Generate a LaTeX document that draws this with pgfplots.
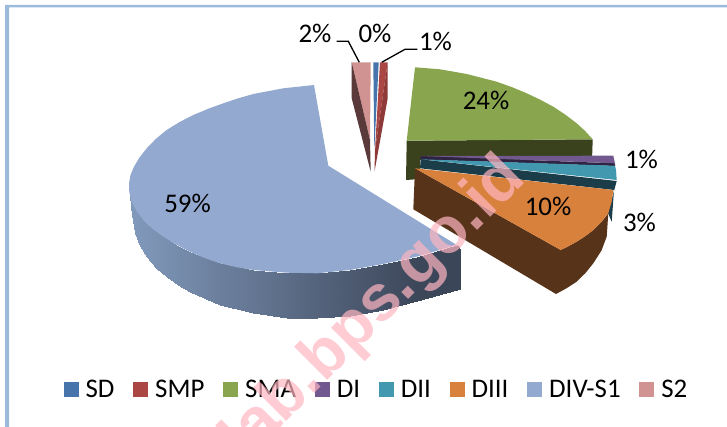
\documentclass[border=0pt]{standalone}
\usepackage{pgfplots}
\usepackage{fontspec}
\pgfplotsset{compat=1.18}
\setmainfont{Liberation Sans}
\newfontfamily\carlito{Carlito}
\definecolor{frm}{HTML}{9CBADC}
\definecolor{cSD}{HTML}{4674AB}
\definecolor{cSMP}{HTML}{AA4643}
\definecolor{cSMPd}{HTML}{8E3A38}
\definecolor{cSMA}{HTML}{89A54E}
\definecolor{cSMAd}{HTML}{3A421D}
\definecolor{cDI}{HTML}{71588F}
\definecolor{cDId}{HTML}{2E2340}
\definecolor{cDII}{HTML}{4198AF}
\definecolor{cDIId}{HTML}{1B3D4A}
\definecolor{cDIII}{HTML}{D8813D}
\definecolor{cDIIId}{HTML}{57331A}
\definecolor{cS}{HTML}{93A9CF}
\definecolor{cS2}{HTML}{D19392}
\definecolor{cS2d}{HTML}{59393A}
\definecolor{wm}{HTML}{FFB6C1}
\newcommand{\lab}[3]{\node[font=\carlito\fontsize{27}{30}\selectfont,inner sep=0pt,anchor=center] at (axis cs:#1,#2) {#3};}
\newcommand{\sq}[1]{\addlegendimage{draw=none,fill=#1}}
\begin{document}
\begin{tikzpicture}
\path[use as bounding box,clip] (0,0) rectangle (727bp,427bp);
\begin{axis}[
  scale only axis,width=727bp,height=427bp,
  xmin=0,xmax=727,ymin=0,ymax=427,y dir=reverse,
  axis lines=none,clip=true,
  colormap={sidec}{rgb255=(128,152,186) rgb255=(60,70,89)},
  point meta min=0,point meta max=1,
  every axis plot/.append style={no markers,draw=none},
  legend columns=8,
  legend image code/.code={\fill[#1] (0bp,-7.5bp) rectangle (15bp,7.5bp);},
  legend style={draw=none,fill=none,inner sep=0pt,outer sep=0pt,
    at={(0.5165,0.0878)},anchor=center,
    font=\carlito\fontsize{27}{30}\selectfont,
    /tikz/every even column/.append style={column sep=18.7bp},
    nodes={inner sep=0pt,outer sep=0pt},
    /tikz/column sep=0bp},
]
\sq{cSD}\addlegendentry{\hspace{7bp}SD}
\sq{cSMP}\addlegendentry{\hspace{7bp}SMP}
\sq{cSMA}\addlegendentry{\hspace{7bp}SMA}
\sq{cDI}\addlegendentry{\hspace{7bp}DI}
\sq{cDII}\addlegendentry{\hspace{7bp}DII}
\sq{cDIII}\addlegendentry{\hspace{7bp}DIII}
\sq{cS}\addlegendentry{\hspace{7bp}DIV-S1}
\sq{cS2}\addlegendentry{\hspace{7bp}S2}
% frame
\addplot[fill=frm,forget plot] coordinates {(5,427)(5,5)(727,5)(727,7.5)(9,7.5)(9,427)};
% S2
\addplot[fill=cS2,forget plot] coordinates {(351.7,62.3)(370.7,62.3)(370,140)};
\addplot[fill=cS2d,forget plot] coordinates {(351.7,62.3)(351.7,98.3)(370.7,171.7)(370,140)};
% SD
\addplot[fill=cSD,forget plot] coordinates {(373.3,62.3)(378.7,62.3)(374.3,150)};
% SMP
\addplot[fill=cSMP,forget plot] coordinates {(380,62.3)(387.7,62.3)(375,150)};
\addplot[fill=cSMPd,forget plot] coordinates {(387.7,62.3)(387.7,98.3)(374.5,171.7)(375,150)};
% SMA
\addplot[fill=cSMAd,forget plot] coordinates {(406.7,140.7)(592.7,139.3)(592,160)(420,160)(420,179)(406,180)};
\addplot[fill=cSMA,forget plot] coordinates {(415,67.3)(440,69.3)(466.7,74)(496.7,81.7)(511.8,87.1)(526.7,93.3)(540.2,99.7)(553.3,106.7)(565.4,114.7)(576.7,123.3)(585,130.9)(592.7,139.3)(406.7,140.7)};
% DI
\addplot[fill=cDId,forget plot] coordinates {(420.7,156)(420.7,159.5)(615,166)(615,163.3)};
\addplot[fill=cDI,forget plot] coordinates {(420.7,156)(613.3,155.7)(615,163.3)};
% DII
\addplot[fill=cDIId,forget plot] coordinates {(420.7,159.3)(420,168.3)(614,190)(611.7,221.7)(608,213)(616.7,181)};
\addplot[fill=cDII,forget plot] coordinates {(420.7,159.3)(615,165.7)(616,170)(616.7,180)};
% DIII
\addplot[fill=cDIIId,forget plot] coordinates {(415,168.3)(560.7,250)(568.8,246)(576.7,241.7)(585.2,236.2)(593.3,230)(601.3,222)(608.3,213.3)(606.7,236.7)(601.5,250.5)(593.3,263.3)(585.5,273)(576.7,281.7)(566.5,288.3)(556,294)(413.3,209.3)};
\addplot[fill=cDIII,forget plot] coordinates {(415,168.3)(613.3,190)(611.7,201.7)(608.3,213.3)(601.3,222)(593.3,230)(585.2,236.2)(576.7,241.7)(568.8,246)(560.7,250)};
% DIV-S1 side
\addplot[patch,patch type=rectangle,shader=interp,point meta=explicit,forget plot] coordinates {
(129,183.3)[0] (129,186)[0] (132,215)[0] (132,202)[0]
(132,202)[0] (132,215)[0] (135,233.3)[0] (135,207.5)[0]
(135,207.5)[0] (135,233.3)[0] (139.5,246)[.02] (139.5,214.5)[.02]
(139.5,214.5)[.02] (139.5,246)[.02] (146.7,256.7)[.04] (146.7,223.5)[.04]
(146.7,223.5)[.04] (146.7,256.7)[.04] (155.8,268)[.07] (155.8,231)[.07]
(155.8,231)[.07] (155.8,268)[.07] (166.7,276.7)[.11] (166.7,238.6)[.11]
(166.7,238.6)[.11] (166.7,276.7)[.11] (178,285)[.15] (178,245.5)[.15]
(178,245.5)[.15] (178,285)[.15] (190,291.5)[.19] (190,251.7)[.19]
(190,251.7)[.19] (190,291.5)[.19] (220,304.5)[.30] (220,263.3)[.30]
(220,263.3)[.30] (220,304.5)[.30] (253.3,313)[.41] (253.3,270)[.41]
(253.3,270)[.41] (253.3,313)[.41] (286.7,317.7)[.53] (286.7,272.7)[.53]
(286.7,272.7)[.53] (286.7,317.7)[.53] (316.7,318.3)[.64] (316.7,273.3)[.64]
(316.7,273.3)[.64] (316.7,318.3)[.64] (350,316)[.75] (350,270)[.75]
(350,270)[.75] (350,316)[.75] (383.3,309.5)[.87] (383.3,264)[.87]
(383.3,264)[.87] (383.3,309.5)[.87] (416.7,301)[.99] (416.7,256.7)[.99]
(416.7,256.7)[.99] (416.7,301)[.99] (456.7,290)[1] (456.7,245)[1]
(456.7,245)[1] (456.7,290)[1] (460.7,289.3)[1] (460.7,250)[1]
};
% DIV-S1 top
\addplot[fill=cS,forget plot] coordinates {(314,85)(283.3,88.3)(253.3,94)(238.3,98.3)(223.3,103.3)(208.1,108.8)(193.3,115)(179.4,122.1)(166.7,130)(155.8,138.9)(146.7,148.3)(139.4,157.6)(134,166.7)(130.5,175)(129,183.3)(129.3,192.4)(131.7,201.7)(136.4,211)(143.3,220)(152.4,228.6)(163.3,236.7)(176.1,244.5)(190,251.7)(204.6,258)(220,263.3)(236.5,267.2)(253.3,270)(286.7,272.7)(316.7,273.3)(350,270)(383.3,264)(416.7,256.7)(456.7,245)(328.3,165.7)};
% leaders
\addplot[draw=black,line width=1.3bp,forget plot] coordinates {(336.7,41.3)(348.3,41.3)(359.3,62.3)};
\addplot[draw=black,line width=1.3bp,forget plot] coordinates {(417.3,49.3)(405,49.3)(381.7,62.3)};
\lab{315}{33}{2\%}
\lab{375}{33}{0\%}
\lab{435.5}{41.7}{1\%}
\lab{486}{100}{24\%}
\lab{641.5}{159}{1\%}
\lab{639.5}{222.7}{3\%}
\lab{548}{206}{10\%}
\lab{187.5}{203}{59\%}
\end{axis}
\node[rotate=45,anchor=base east,inner sep=0pt,text=wm,text opacity=.7,font=\fontsize{65}{70}\selectfont\bfseries] at (528bp,247bp) {lab.bps.go.id};
\end{tikzpicture}
\end{document}
